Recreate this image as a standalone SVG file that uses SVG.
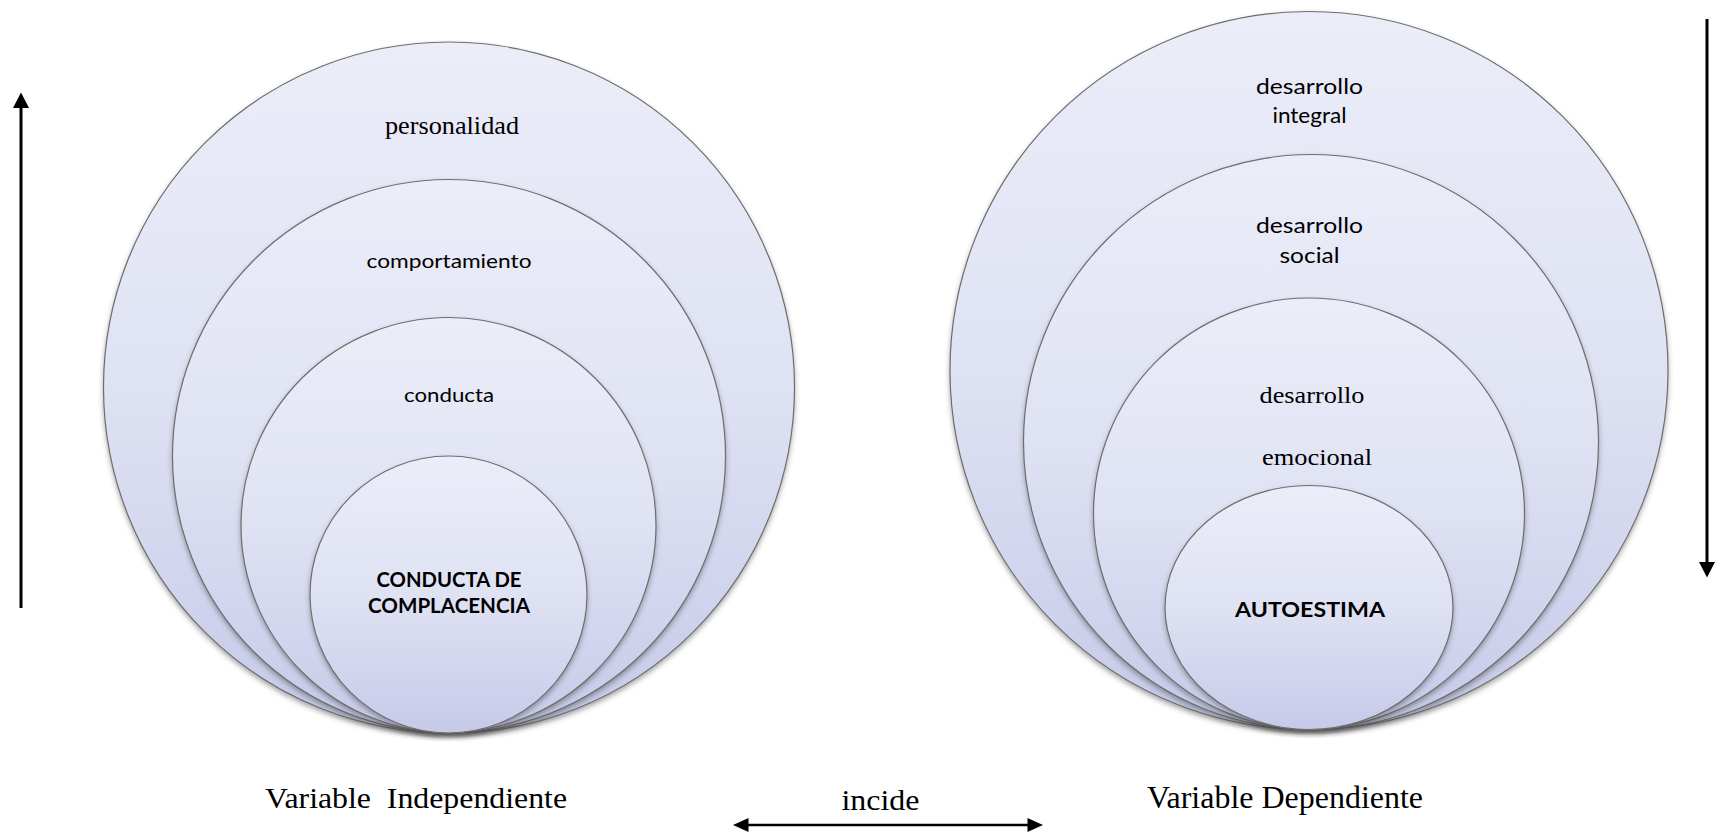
<svg xmlns="http://www.w3.org/2000/svg" width="1721" height="837" viewBox="0 0 1721 837">
<defs>
<linearGradient id="g" x1="0" y1="0" x2="0" y2="1">
<stop offset="0" stop-color="#ebedf8"/>
<stop offset="0.5" stop-color="#dfe2f3"/>
<stop offset="1" stop-color="#c6cae9"/>
</linearGradient>
<filter id="sh" x="-10%" y="-10%" width="120%" height="125%">
<feDropShadow dx="0" dy="3" stdDeviation="2.5" flood-color="#404040" flood-opacity="0.45"/>
</filter>
</defs>
<style>
.c{fill:url(#g);stroke:#6e6e6e;stroke-width:1.2;filter:url(#sh)}
.s{font-family:Lato,"Open Sans","Liberation Sans",sans-serif;fill:#000;text-anchor:middle}
.b{font-weight:bold}
.t{font-family:"Liberation Serif","Times New Roman",serif;fill:#000;text-anchor:middle}
.ln{stroke:#000;fill:none}
.hd{fill:#000}
</style>
<rect width="1721" height="837" fill="#fff"/>

<g id="left-personalidad">
<circle class="c" cx="449" cy="387.5" r="345.5"/>
<text class="t" x="452" y="134" font-size="25" textLength="134" lengthAdjust="spacingAndGlyphs">personalidad</text>
</g>
<g id="left-comportamiento">
<circle class="c" cx="449" cy="456" r="276.5"/>
<text class="s" x="449" y="268" font-size="20" textLength="165" lengthAdjust="spacingAndGlyphs">comportamiento</text>
</g>
<g id="left-conducta">
<circle class="c" cx="448.5" cy="525" r="207.5"/>
<text class="s" x="449" y="401.5" font-size="20" textLength="90" lengthAdjust="spacingAndGlyphs">conducta</text>
</g>
<g id="left-complacencia">
<circle class="c" cx="448.5" cy="594.5" r="138.5"/>
<text class="s b" x="449" y="586.5" font-size="20" textLength="145" lengthAdjust="spacingAndGlyphs">CONDUCTA DE</text>
<text class="s b" x="449" y="613" font-size="20" textLength="162" lengthAdjust="spacingAndGlyphs">COMPLACENCIA</text>
</g>

<g id="right-integral">
<circle class="c" cx="1309" cy="370.5" r="359"/>
<text class="s" x="1309.5" y="94" font-size="21" textLength="107" lengthAdjust="spacingAndGlyphs">desarrollo</text>
<text class="s" x="1309.5" y="122.5" font-size="21" textLength="74" lengthAdjust="spacingAndGlyphs">integral</text>
</g>
<g id="right-social">
<circle class="c" cx="1311" cy="442" r="287.5"/>
<text class="s" x="1309.5" y="233" font-size="21" textLength="107" lengthAdjust="spacingAndGlyphs">desarrollo</text>
<text class="s" x="1309.5" y="263" font-size="21" textLength="60" lengthAdjust="spacingAndGlyphs">social</text>
</g>
<g id="right-emocional">
<circle class="c" cx="1309" cy="513.5" r="215.5"/>
<text class="t" x="1312" y="402.5" font-size="24" textLength="105" lengthAdjust="spacingAndGlyphs">desarrollo</text>
<text class="t" x="1317" y="465" font-size="24" textLength="110" lengthAdjust="spacingAndGlyphs">emocional</text>
</g>
<g id="right-autoestima">
<ellipse class="c" cx="1309" cy="607.5" rx="144" ry="122"/>
<text class="s b" x="1310" y="616.5" font-size="20" textLength="150" lengthAdjust="spacingAndGlyphs">AUTOESTIMA</text>
</g>

<g id="labels">
<text class="t" x="416" y="808" font-size="30" textLength="302" lengthAdjust="spacingAndGlyphs" xml:space="preserve">Variable  Independiente</text>
<text class="t" x="880.5" y="810" font-size="30" textLength="78" lengthAdjust="spacingAndGlyphs">incide</text>
<text class="t" x="1285" y="808" font-size="31" textLength="276" lengthAdjust="spacingAndGlyphs">Variable Dependiente</text>
</g>

<g id="connectors">
<line class="ln" x1="21" y1="608" x2="21" y2="106" stroke-width="3"/>
<polygon class="hd" points="21,92.5 13,108 29,108"/>
<line class="ln" x1="1707" y1="19" x2="1707" y2="564" stroke-width="3"/>
<polygon class="hd" points="1707,577.5 1699,562 1715,562"/>
<line class="ln" x1="746" y1="825" x2="1030" y2="825" stroke-width="2.5"/>
<polygon class="hd" points="733,825 748.5,818 748.5,832"/>
<polygon class="hd" points="1043,825 1027.5,818 1027.5,832"/>
</g>
</svg>
